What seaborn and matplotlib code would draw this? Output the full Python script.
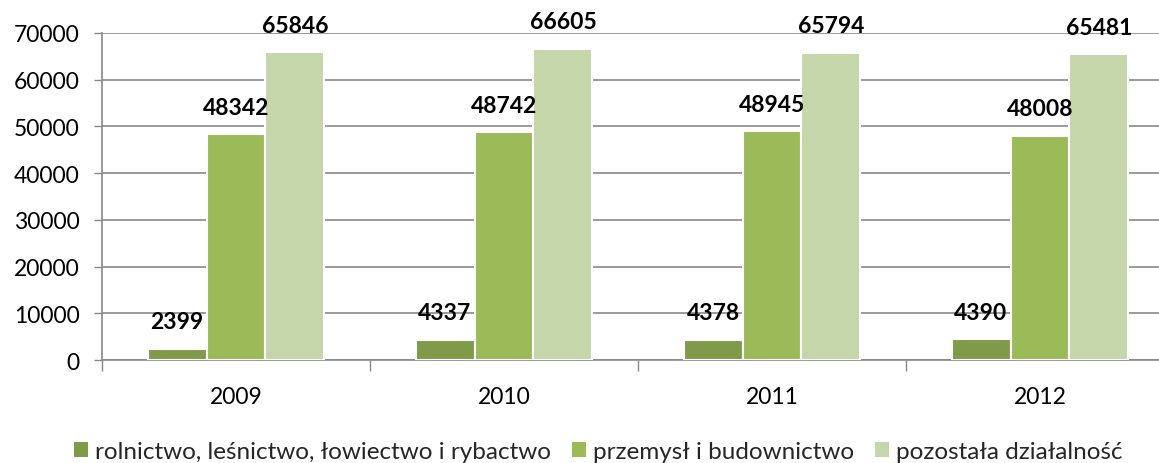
import matplotlib
matplotlib.use("Agg")
import matplotlib.pyplot as plt
from matplotlib.patches import Patch
from matplotlib.ticker import FixedLocator
import seaborn as sns
import pandas as pd

years = ["2009", "2010", "2011", "2012"]
series_names = ["rolnictwo, leśnictwo, łowiectwo i rybactwo",
                "przemysł i budownictwo",
                "pozostała działalność"]
rolnictwo = [2399, 4337, 4378, 4390]
przemysl = [48342, 48742, 48945, 48008]
pozostala = [65846, 66605, 65794, 65481]
y_ticks = [0, 10000, 20000, 30000, 40000, 50000, 60000, 70000]
colors = ["#7F9B4A", "#9BBB59", "#C5D6AA"]

rows = []
for name, vals in zip(series_names, [rolnictwo, przemysl, pozostala]):
    for yr, v in zip(years, vals):
        rows.append({"rok": yr, "seria": name, "wartosc": v})
df = pd.DataFrame(rows)

sns.set_theme(style="white")
plt.rcParams["font.family"] = ["Lato", "DejaVu Sans"]

fig = plt.figure(figsize=(11.59, 4.64), dpi=100)
ax = fig.add_axes([102 / 1159, 1 - 361 / 464, 1072 / 1159, (361 - 34) / 464])

sns.barplot(data=df, x="rok", y="wartosc", hue="seria", order=years,
            hue_order=series_names, palette=colors, saturation=1, width=0.66, gap=0,
            edgecolor="white", linewidth=1.5, ax=ax, legend=False, zorder=3)

ax.set_xlim(-0.5, 3.5)
ax.set_ylim(0, 70000)
ax.set_yticks(y_ticks)
ax.set_yticklabels([str(t) for t in y_ticks], fontsize=16.5, color="black")
ax.tick_params(axis="y", length=6, width=1, color="#898989", pad=10, left=True)
ax.tick_params(axis="x", which="major", length=0, pad=19, labelsize=16.5, labelcolor="black")
ax.xaxis.set_minor_locator(FixedLocator([-0.5, 0.5, 1.5, 2.5, 3.5]))
ax.tick_params(axis="x", which="minor", length=8, width=1, color="#898989", bottom=True)
ax.set_xlabel("")
ax.set_ylabel("")
ax.yaxis.grid(True, color="#898989", linewidth=1.2, zorder=0)
ax.set_axisbelow(True)
for s in ["top", "right"]:
    ax.spines[s].set_visible(False)
for s in ["left", "bottom"]:
    ax.spines[s].set_color("#898989")
    ax.spines[s].set_linewidth(1.2)

for cont in ax.containers:
    for bar in cont:
        h = bar.get_height()
        ax.annotate(f"{int(round(h))}", (bar.get_x() + bar.get_width() / 2, h),
                    xytext=(0, 19.5), textcoords="offset points",
                    ha="center", va="center", fontsize=16.5, fontweight="bold",
                    color="black", clip_on=False, annotation_clip=False, zorder=5)

handles = [Patch(facecolor=c, edgecolor="none") for c in colors]
fig.legend(handles, series_names, loc="center", bbox_to_anchor=(0.516, 0.024),
           ncol=3, frameon=False, fontsize=17.5, handlelength=0.58, handleheight=0.58,
           handletextpad=0.29, columnspacing=0.86, borderaxespad=0, borderpad=0)

fig.savefig("out.png", dpi=100)
